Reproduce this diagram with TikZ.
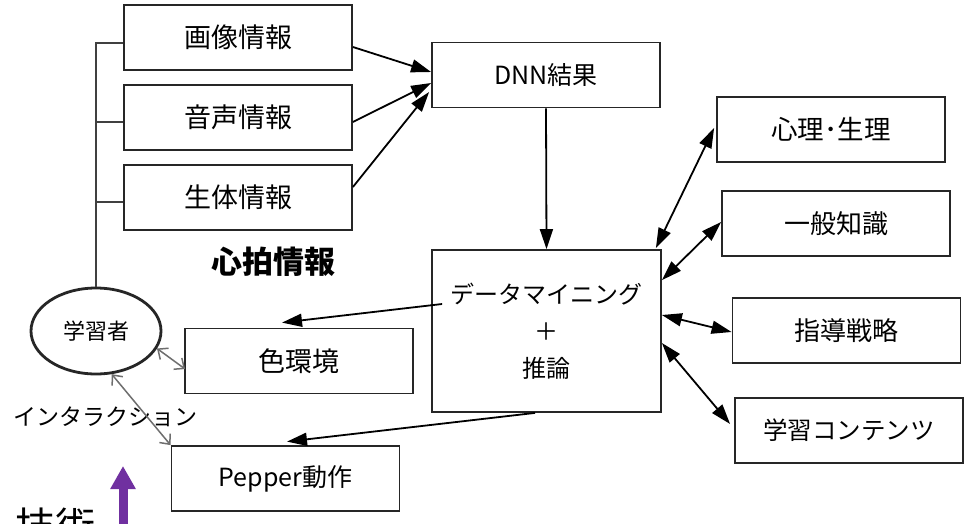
\documentclass[tikz,border=0pt]{standalone}
\usepackage{fontspec}
\newfontfamily\jp{Noto Sans CJK JP}
\usetikzlibrary{arrows.meta,shapes.geometric,calc}
\definecolor{pp}{HTML}{7030A0}
\definecolor{ga}{HTML}{6E6E6E}
\begin{document}
\begin{tikzpicture}[x=1pt,y=-1pt,
  box/.style={draw=black!85, line width=1.8pt, minimum width=228pt, minimum height=65pt, inner sep=0pt, font=\jp\fontsize{25}{30}\selectfont},
  arr/.style={draw=black, line width=1.8pt, -{Triangle[length=20pt,width=13pt]}},
  darr/.style={draw=black, line width=1.8pt, {Triangle[length=20pt,width=13pt]}-{Triangle[length=20pt,width=13pt]}},
  garr/.style={draw=ga, line width=1.5pt, {Straight Barb[length=8pt,width=14pt]}-{Straight Barb[length=8pt,width=14pt]}},
  tree/.style={draw=black!75, line width=1.5pt},
  lbl/.style={font=\jp\fontsize{23}{28}\selectfont, inner sep=0pt},
]
\path[use as bounding box, clip] (0,0) rectangle (974,523);
\fill[white] (0,0) rectangle (974,523);

% left input boxes
\node[box, font=\jp\fontsize{27}{30}\selectfont] (img) at (238,37.5) {画像情報};
\node[box, font=\jp\fontsize{27}{30}\selectfont] (aud) at (238,117.5) {音声情報};
\node[box, font=\jp\fontsize{27}{30}\selectfont] (bio) at (238,197.5) {生体情報};

% center
\node[box] (dnn) at (546,75) {DNN結果};
\node[box, minimum width=229pt, minimum height=162pt, align=center, font=\jp\fontsize{24}{37}\selectfont] (dm) at (546.5,331) {データマイニング\\＋\\推論};

% right boxes
\node[box, font=\jp\fontsize{26.5}{30}\selectfont] (psy) at (831,129.5) {心理･生理};
\node[box, font=\jp\fontsize{26}{30}\selectfont] (gen) at (836,223.5) {一般知識};
\node[box, font=\jp\fontsize{26}{30}\selectfont] (str) at (846.5,330.5) {指導戦略};
\node[box, font=\jp\fontsize{24.5}{30}\selectfont] (cont) at (849,430.5) {学習コンテンツ};

% output boxes
\node[box, font=\jp\fontsize{27}{30}\selectfont] (col) at (299,361) {色環境};
\node[box] (pep) at (285.5,478.5) {Pepper動作};

% learner
\node[ellipse, draw=black!85, line width=2.8pt, minimum width=130pt, minimum height=86pt, inner sep=0pt, font=\jp\fontsize{22}{26}\selectfont] (learner) at (96,331) {学習者};

% labels
\node[font=\jp\bfseries\fontsize{31}{34}\selectfont, inner sep=0pt] (hr) at (273.5,262) {心拍情報};
\node[lbl] (inter) at (105.5,417) {インタラクション};
\node[font=\jp\fontsize{40}{44}\selectfont, inner sep=0pt, anchor=base west] (tech) at (15,541) {技術};

% tree from learner
\coordinate (t1) at ($(img.west)+(0,5.5)$);
\coordinate (t2) at ($(aud.west)+(0,4.5)$);
\coordinate (t3) at ($(bio.west)+(0,4.5)$);
\draw[tree] (learner.north) |- (t1);
\draw[tree] (t2) -- (learner.north |- t2);
\draw[tree] (t3) -- (learner.north |- t3);

% inputs to DNN
\draw[arr] ($(img.east)+(0,9.5)$) -- ($(dnn.west)+(0,-3)$);
\draw[arr] ($(aud.east)+(0,4.5)$) -- ($(dnn.west)+(0,8)$);
\draw[arr] ($(bio.east)+(0,-10.5)$) -- ($(dnn.west)+(-2,17)$);

% DNN to data mining
\draw[arr] (dnn.south) -- (dm.north);

% data mining to outputs
\draw[arr] ($(dm.west)+(11,-27)$) -- ($(col.north)+(-17,-5)$);
\draw[arr] ($(dm.south)+(-11.5,0)$) -- ($(pep.north)+(1.5,-3.5)$);

% knowledge double arrows
\draw[darr] ($(dm.north east)+(-6,-1)$) -- ($(psy.west)+(-2,-1.5)$);
\draw[darr] ($(dm.north east)+(0,31)$) -- ($(gen.west)+(0,-1.5)$);
\draw[darr] ($(dm.east)+(0,-16)$) -- ($(str.west)+(0,1.5)$);
\draw[darr] ($(dm.east)+(0,12)$) -- ($(cont.west)+(-4,-6.5)$);

% interaction arrows
\draw[garr] (learner.-16) -- ($(col.west)+(1,8)$);
\draw[garr] (learner.-70) -- (pep.north west);

% purple arrow
\coordinate (pa) at (123,545);
\coordinate (pb) at (123,466);
\draw[draw=pp, line width=9pt, -{Triangle[length=23pt,width=24pt]}] (pa) -- (pb);
\end{tikzpicture}
\end{document}
